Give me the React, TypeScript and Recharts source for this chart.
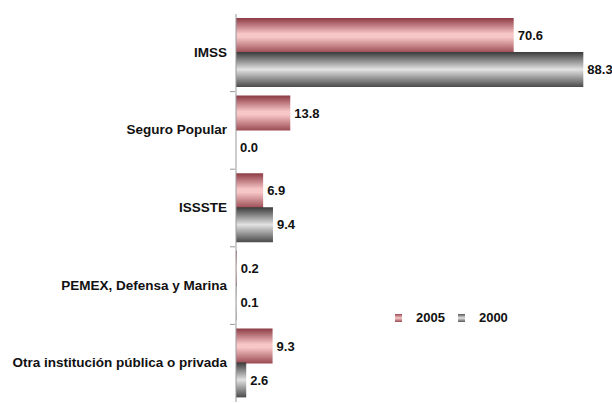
import { BarChart, Bar, XAxis, YAxis, LabelList, Legend } from 'recharts'

const categories = ['IMSS', 'Seguro Popular', 'ISSSTE', 'PEMEX, Defensa y Marina', 'Otra institución pública o privada']
const values2005 = [70.6, 13.8, 6.9, 0.2, 9.3]
const values2000 = [88.3, 0.0, 9.4, 0.1, 2.6]

const data = categories.map((name, i) => ({ name, y2005: values2005[i], y2000: values2000[i] }))

const FONT = '"Liberation Sans", Arial, sans-serif'
const BAND = 388 / categories.length

function CategoryTick(props: any) {
  const { x, y, payload, index } = props
  return (
    <g>
      <text x={x - 1} y={y} dy={4} textAnchor="end" fontFamily={FONT} fontWeight="bold" fontSize={13.5} fill="#111">
        {payload.value}
      </text>
      {index < categories.length - 1 && (
        <line x1={x + 2} x2={x + 7} y1={y + BAND / 2} y2={y + BAND / 2} stroke="#999" strokeWidth={1} />
      )}
    </g>
  )
}

function LegendContent() {
  const items = [
    { label: '2005', dark: '#9a4a52', light: '#f6c8c8' },
    { label: '2000', dark: '#555', light: '#e4e4e4' },
  ]
  return (
    <div style={{ display: 'flex', alignItems: 'center', gap: 13, fontFamily: FONT, fontWeight: 'bold', fontSize: 13, color: '#111' }}>
      {items.map((it) => (
        <span key={it.label} style={{ display: 'flex', alignItems: 'center', gap: 14 }}>
          <svg width={7} height={8}>
            <defs>
              <linearGradient id={'lg' + it.label} x1="0" y1="0" x2="0" y2="1">
                <stop offset="0%" stopColor={it.dark} />
                <stop offset="50%" stopColor={it.light} />
                <stop offset="100%" stopColor={it.dark} />
              </linearGradient>
            </defs>
            <rect width={7} height={8} fill={'url(#lg' + it.label + ')'} />
          </svg>
          {it.label}
        </span>
      ))}
    </div>
  )
}

const labelFmt = (v: any) => Number(v).toFixed(1)
const minSize = (v: any) => (v === 0 ? 0.01 : 0)

export default function App() {
  return (
    <div style={{ position: 'absolute', left: 0, top: 0, width: 612, height: 403, background: '#fff' }}>
      <BarChart
        width={612}
        height={403}
        data={data}
        layout="vertical"
        barCategoryGap={4}
        barGap={-1}
        margin={{ top: 14, right: 22, bottom: 1, left: 0 }}
      >
        <defs>
          <linearGradient id="gradRed" x1="0" y1="0" x2="0" y2="1">
            <stop offset="0%" stopColor="#8c3a44" />
            <stop offset="45%" stopColor="#f7c6c6" />
            <stop offset="55%" stopColor="#f7c6c6" />
            <stop offset="100%" stopColor="#9a4a52" />
          </linearGradient>
          <linearGradient id="gradGrey" x1="0" y1="0" x2="0" y2="1">
            <stop offset="0%" stopColor="#3a3a3a" />
            <stop offset="50%" stopColor="#e2e2e2" />
            <stop offset="100%" stopColor="#4a4a4a" />
          </linearGradient>
        </defs>
        <XAxis type="number" domain={[0, 90]} hide />
        <YAxis
          type="category"
          dataKey="name"
          width={236}
          axisLine={{ stroke: '#999' }}
          tickLine={false}
          tick={<CategoryTick />}
          interval={0}
        />
        <Legend
          verticalAlign="middle"
          align="center"
          content={<LegendContent />}
          wrapperStyle={{ position: 'absolute', left: 395, top: 310, width: 'auto' }}
        />
        <Bar dataKey="y2005" name="2005" fill="url(#gradRed)" minPointSize={minSize} isAnimationActive={false}>
          <LabelList dataKey="y2005" position="right" offset={4} fontFamily={FONT} fontWeight="bold" fontSize={13} fill="#111" formatter={labelFmt} />
        </Bar>
        <Bar dataKey="y2000" name="2000" fill="url(#gradGrey)" minPointSize={minSize} isAnimationActive={false}>
          <LabelList dataKey="y2000" position="right" offset={4} fontFamily={FONT} fontWeight="bold" fontSize={13} fill="#111" formatter={labelFmt} />
        </Bar>
      </BarChart>
    </div>
  )
}
